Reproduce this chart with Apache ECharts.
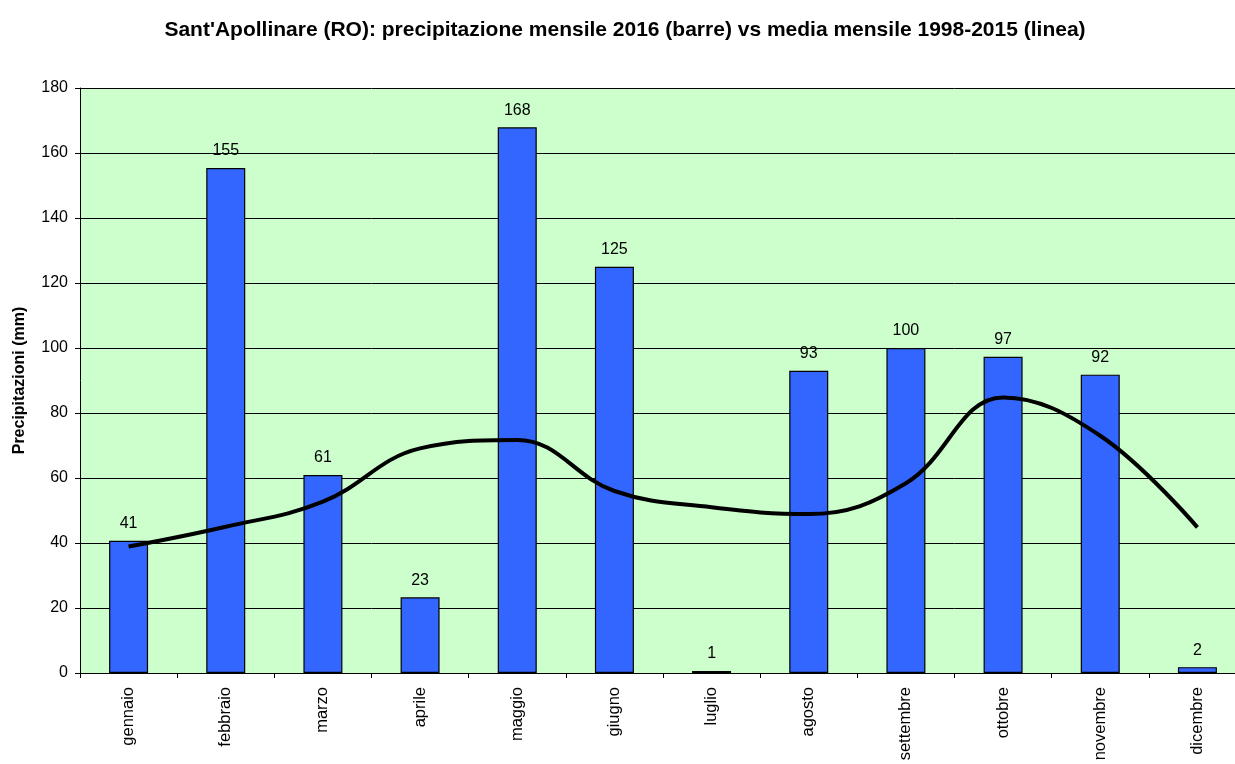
<!DOCTYPE html>
<html><head><meta charset="utf-8">
<script src="https://cdn.jsdelivr.net/npm/echarts@6/dist/echarts.min.js"></script>
<style>html,body{margin:0;padding:0;background:#fff;overflow:hidden}#c{width:1247px;height:764px}</style>
</head><body><div id="c"></div>
<script>
const months = ['gennaio','febbraio','marzo','aprile','maggio','giugno','luglio','agosto','settembre','ottobre','novembre','dicembre'];
const rain2016 = [40.7,155.4,60.9,23.3,167.9,125.0,0.6,93.0,100.0,97.3,91.8,1.8];
const mean9815 = [38.9,45,52.7,69.1,71.7,56,51,48.9,58.4,84.8,73,44.8];
const yTicks = {min:0,max:180,interval:20};
const chart = echarts.init(document.getElementById('c'));
const F = 'Liberation Sans, Arial, sans-serif';
chart.setOption({
  animation:false,
  backgroundColor:'#ffffff',
  title:{text:"Sant'Apollinare (RO): precipitazione mensile 2016 (barre) vs media mensile 1998-2015 (linea)",
    left:620,textAlign:'center',top:15,
    textStyle:{fontFamily:F,fontSize:21,fontWeight:'bold',color:'#000'}},
  grid:{left:80,top:88,width:1166,height:585,show:true,backgroundColor:'#CCFFCC',borderWidth:0},
  xAxis:{type:'category',data:months,boundaryGap:true,
    axisLine:{lineStyle:{color:'#000',width:1}},
    axisTick:{show:true,alignWithLabel:false,length:5,lineStyle:{color:'#000'}},
    axisLabel:{rotate:90,fontFamily:F,fontSize:16.5,color:'#000',margin:14}},
  yAxis:{type:'value',min:yTicks.min,max:yTicks.max,interval:yTicks.interval,
    name:'Precipitazioni (mm)',nameLocation:'middle',nameRotate:90,nameGap:52,
    nameTextStyle:{fontFamily:F,fontSize:16,fontWeight:'bold',color:'#000'},
    axisLine:{show:true,lineStyle:{color:'#000',width:1}},
    axisTick:{show:true,length:5,lineStyle:{color:'#000'}},
    axisLabel:{fontFamily:F,fontSize:16,color:'#000',margin:12},
    splitLine:{show:true,lineStyle:{color:'#000',width:1}}},
  series:[
    {type:'bar',data:rain2016,barWidth:39,
      itemStyle:{color:'#3366FF',borderColor:'#000',borderWidth:1.2},
      label:{show:true,position:'top',distance:9,fontFamily:F,fontSize:16,color:'#000',
        formatter:p=>Math.round(p.value)}},
    {type:'line',data:mean9815,smooth:0.4,symbol:'none',
      lineStyle:{color:'#000',width:4},z:5}
  ]
});
</script></body></html>
